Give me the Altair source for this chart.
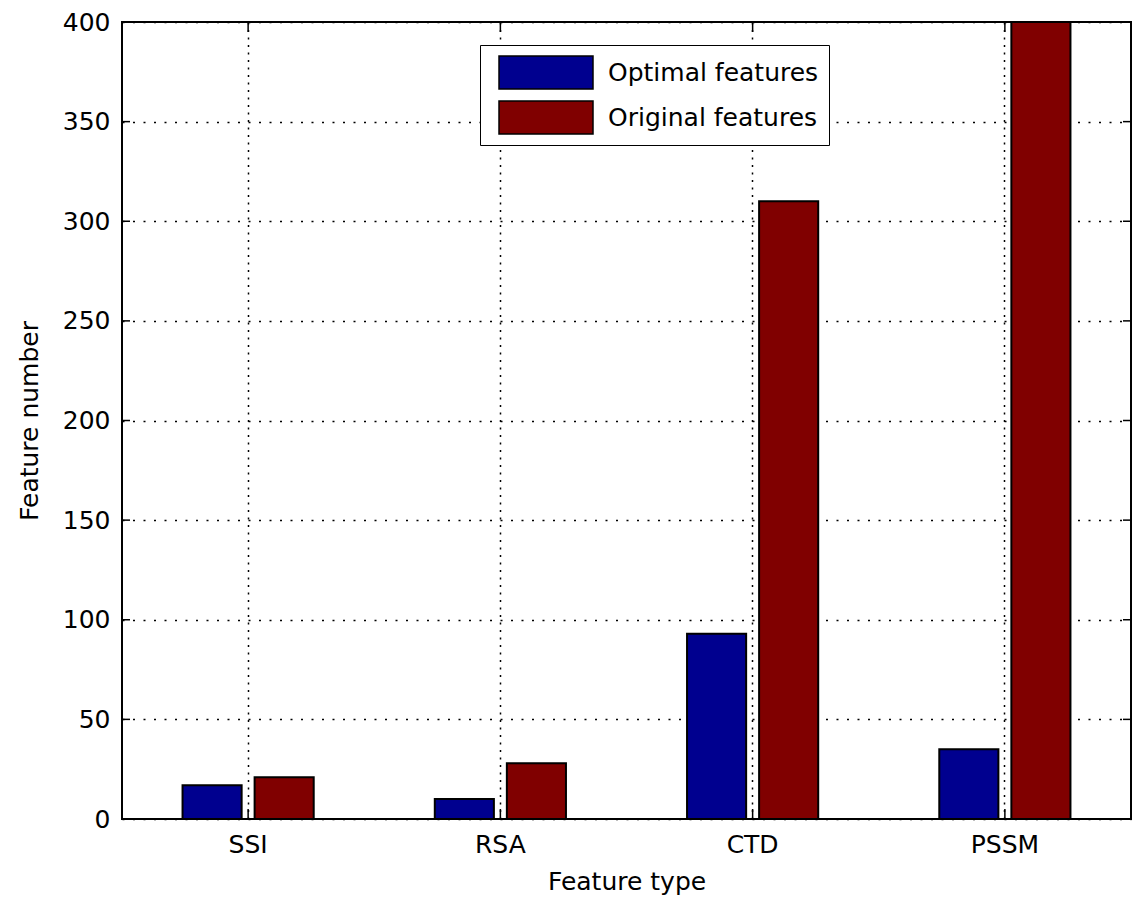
import altair as alt
import pandas as pd

categories = ["SSI", "RSA", "CTD", "PSSM"]
series = ["Optimal features", "Original features"]
optimal = [17, 10, 93, 35]
original = [21, 28, 310, 400]
y_ticks = [0, 50, 100, 150, 200, 250, 300, 350, 400]
colors = ["#00008F", "#800000"]

rows = []
for c, o, r in zip(categories, optimal, original):
    rows.append({"type": c, "series": series[0], "value": o})
    rows.append({"type": c, "series": series[1], "value": r})
df = pd.DataFrame(rows)
tick_df = pd.DataFrame({"value": y_ticks})
cat_df = pd.DataFrame({"type": categories})

W, H = 1009, 797
FONT = "DejaVu Sans"

x_scale = alt.Scale(paddingInner=0.48, paddingOuter=0.24)
y_scale = alt.Scale(domain=[0, 400], nice=False)

bars = alt.Chart(df).mark_bar(stroke="black", strokeWidth=2).encode(
    x=alt.X("type:N", sort=categories, scale=x_scale,
            axis=alt.Axis(title="Feature type", labelAngle=0, labelPadding=13,
                          titlePadding=12, grid=True, gridDash=[2, 5.5],
                          bandPosition=0.5)),
    xOffset=alt.XOffset("series:N", sort=series,
                        scale=alt.Scale(paddingInner=0.18, paddingOuter=0)),
    y=alt.Y("value:Q", scale=y_scale,
            axis=alt.Axis(values=y_ticks, title="Feature number", grid=True,
                          gridDash=[2, 8.5], labelPadding=12, titlePadding=20)),
    color=alt.Color("series:N", sort=series,
                    scale=alt.Scale(domain=series, range=colors),
                    legend=alt.Legend(
                        title=None, orient="none", legendX=358, legendY=23,
                        strokeColor="black", fillColor="white", padding=10,
                        symbolType="M-1,-0.35L1,-0.35L1,0.35L-1,0.35Z",
                        symbolSize=8836, symbolStrokeColor="black",
                        symbolStrokeWidth=1.5, symbolOpacity=1,
                        symbolOffset=8, labelOffset=14, rowPadding=10,
                        clipHeight=35, labelLimit=400,
                        labelFont=FONT, labelFontSize=25, labelColor="black")),
)

tick_style = dict(color="black", strokeWidth=1.5)
left_ticks = alt.Chart(tick_df).mark_rule(**tick_style).encode(
    y=alt.Y("value:Q", scale=y_scale),
    x=alt.value(0), x2=alt.value(8))
right_ticks = alt.Chart(tick_df).mark_rule(**tick_style).encode(
    y=alt.Y("value:Q", scale=y_scale),
    x=alt.value({"expr": "width"}), x2=alt.value({"expr": "width - 8"}))
bottom_ticks = alt.Chart(cat_df).mark_rule(**tick_style).encode(
    x=alt.X("type:N", sort=categories, scale=x_scale),
    y=alt.value({"expr": "height"}), y2=alt.value({"expr": "height - 10"}))
top_ticks = alt.Chart(cat_df).mark_rule(**tick_style).encode(
    x=alt.X("type:N", sort=categories, scale=x_scale),
    y=alt.value(0), y2=alt.value(10))

chart = alt.layer(bars, left_ticks, right_ticks, bottom_ticks, top_ticks).properties(
    width=W, height=H,
    autosize=alt.AutoSizeParams(type="none"),
    padding={"left": 114, "top": 14, "right": 1, "bottom": 78},
    background="white",
).configure_view(
    stroke="black", strokeWidth=2
).configure_axis(
    labelFont=FONT, labelFontSize=25, labelColor="black",
    titleFont=FONT, titleFontSize=25, titleFontWeight="normal", titleColor="black",
    domain=False, ticks=False, gridColor="black", gridOpacity=1, gridWidth=1.5,
)

chart.save("out.html", embed_options={"renderer": "svg", "actions": False})
